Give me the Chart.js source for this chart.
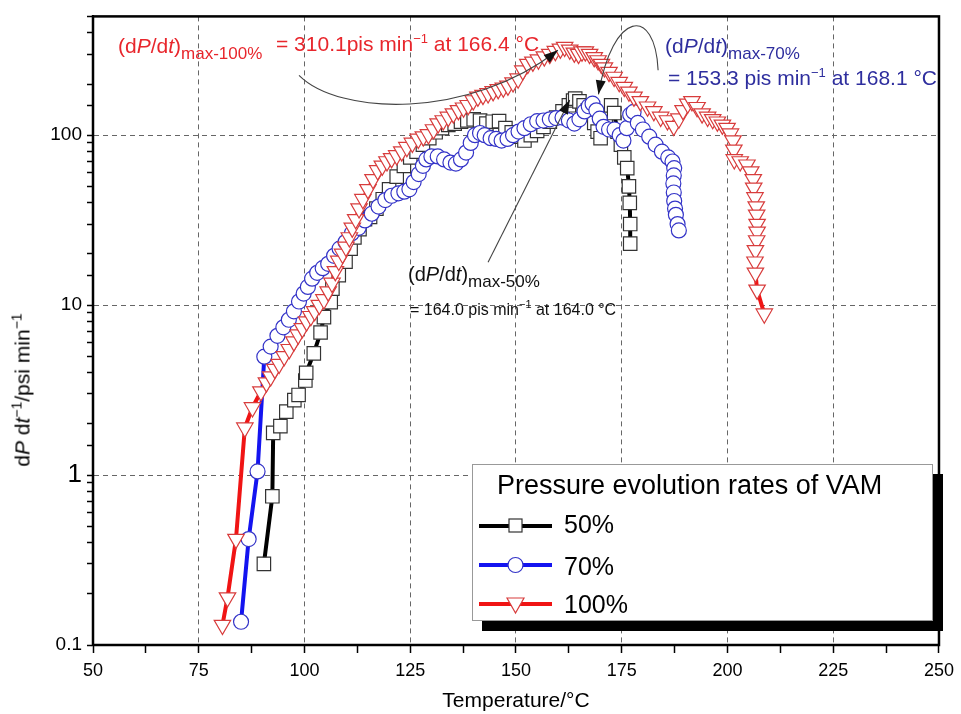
<!DOCTYPE html>
<html>
<head>
<meta charset="utf-8">
<script src="https://cdn.jsdelivr.net/npm/chart.js@4.4.1/dist/chart.umd.min.js"></script>
<style>
  body { margin: 0; background: #fff; }
  #wrap { position: relative; width: 961px; height: 714px; font-family: 'Liberation Sans', Arial, sans-serif; }
  canvas { position: absolute; left: 0; top: 0; }
  .t { position: absolute; white-space: nowrap; line-height: 1; }
  .t sub { font-size: 17px; vertical-align: baseline; position: relative; top: 0.35em; }
  .t sup { font-size: 13px; vertical-align: baseline; position: relative; top: -0.6em; }
  .red { color: #e8262c; font-size: 21px; }
  .blue { color: #2e2e9e; font-size: 21px; }
  .blk { color: #111; }
  #legend { position: absolute; left: 472px; top: 464px; width: 459px; height: 155px;
            border: 1px solid #999; background: #fff; box-shadow: 10px 10px 0 #000; }
  #ytitle { position: absolute; left: 22px; top: 390px; transform: translate(-50%, -50%) rotate(-90deg);
            font-size: 21px; white-space: nowrap; line-height: 1; }
  #ytitle sup { font-size: 14px; vertical-align: baseline; position: relative; top: -0.6em; }
</style>
</head>
<body>
<div id="wrap">
<canvas id="c" width="961" height="714"></canvas>

<div id="ytitle">d<i>P</i> d<i>t</i><sup>−1</sup>/psi min<sup>−1</sup></div>

<div class="t red" style="left:118px;top:35px">(d<i>P</i>/d<i>t</i>)<sub>max-100%</sub></div>
<div class="t red" style="left:276px;top:33px">= 310.1pis min<sup>−1</sup> at 166.4 °C</div>
<div class="t blue" style="left:665px;top:35px">(d<i>P</i>/d<i>t</i>)<sub>max-70%</sub></div>
<div class="t blue" style="left:668px;top:67px">= 153.3 pis min<sup>−1</sup> at 168.1 °C</div>
<div class="t blk" style="left:408px;top:264px;font-size:20px">(d<i>P</i>/d<i>t</i>)<sub>max-50%</sub></div>
<div class="t blk" style="left:410px;top:302px;font-size:16px">= 164.0 pis min<sup style="font-size:11px">−1</sup> at 164.0 °C</div>

<div id="legend">
  <svg width="120" height="155" style="position:absolute;left:0;top:0">
    <line x1="6" y1="61" x2="79" y2="61" stroke="#000" stroke-width="4"/>
    <rect x="36" y="54" width="13" height="13" fill="#fff" stroke="#333" stroke-width="1.2"/>
    <line x1="6" y1="100" x2="79" y2="100" stroke="#1414f0" stroke-width="4"/>
    <circle cx="42.5" cy="100" r="7.5" fill="#fff" stroke="#3434c8" stroke-width="1.2"/>
    <line x1="6" y1="139" x2="79" y2="139" stroke="#f01414" stroke-width="4"/>
    <polygon points="34,133 51,133 42.5,148" fill="#fff" stroke="#d83c3c" stroke-width="1.2"/>
  </svg>
  <div class="t" style="left:24px;top:7px;font-size:27px;color:#000">Pressure evolution rates of VAM</div>
  <div class="t" style="left:91px;top:47px;font-size:25px;color:#000">50%</div>
  <div class="t" style="left:91px;top:89px;font-size:25px;color:#000">70%</div>
  <div class="t" style="left:91px;top:127px;font-size:25px;color:#000">100%</div>
</div>
</div>

<script>
// 50 % VAM (black squares)
const temp50 = [90.4, 92.4, 92.6, 94.3, 95.7, 97.6, 98.6, 100.2, 100.4, 102.2, 103.8, 104.6, 106.2, 106.6, 108.1,
  109.7, 110.9, 111.8, 113.0, 114.3, 115.5, 117.0, 118.5, 120.0, 121.8, 123.5, 125.0, 126.5, 128.0, 129.5,
  131.0, 132.5, 134.0, 135.5, 137.0, 138.5, 140.0, 141.5, 143.0, 144.5, 146.0, 147.5, 149.0, 150.5, 152.0,
  153.5, 155.0, 156.5, 158.0, 159.5, 161.0, 162.5, 163.5, 164.0, 165.0, 166.0, 167.0, 168.5, 169.3, 170.0,
  171.2, 172.5, 173.2, 174.0, 174.8, 175.6, 176.3, 176.7, 176.9, 177.0, 177.0];
const rate50 = [0.30, 0.75, 1.77, 1.94, 2.36, 2.76, 2.96, 3.6, 4.0, 5.2, 6.9, 8.5, 10.4, 12.5, 15,
  18, 21.5, 25, 28, 32, 33, 37, 42, 48, 57, 66, 74, 80, 88, 96,
  104, 110, 115, 117, 120, 122, 124, 122, 117, 120, 121, 110, 104, 98, 93,
  100, 106, 112, 120, 127, 138, 150, 160, 164, 158, 150, 140, 118, 105, 96,
  125, 150, 135, 105, 88, 74, 64, 50, 40, 30, 23];

// 70 % VAM (blue circles)
const temp70 = [85.0, 86.8, 88.9, 90.5, 92.0, 93.6, 95.0, 96.3, 97.5, 98.7, 99.8, 100.8, 101.8, 103.0, 104.3,
  105.6, 107.0, 108.3, 109.7, 111.2, 112.8, 114.3, 115.9, 117.5, 119.1, 120.6, 122.2, 123.6, 124.8, 125.8,
  127.0, 128.0, 128.8, 130.0, 131.5, 133.0, 134.5, 135.8, 137.0, 138.2, 139.3, 140.3, 141.5, 142.6, 144.0,
  145.3, 146.6, 148.0, 149.3, 150.6, 152.0, 153.5, 155.0, 156.5, 158.0, 159.5, 161.0, 162.5, 163.8, 165.0,
  166.2, 167.2, 168.1, 169.0, 169.8, 170.7, 172.0, 173.3, 174.5, 175.4, 176.2, 177.0, 177.8, 178.8, 180.0,
  181.5, 183.0, 184.5, 186.0, 187.0, 187.4, 187.3, 187.2, 187.3, 187.4, 187.6, 187.8, 188.2, 188.5];
const rate70 = [0.137, 0.42, 1.05, 4.97, 5.7, 6.6, 7.4, 8.2, 9.2, 10.5, 11.7, 12.8, 14.3, 15.5, 16.5,
  17.5, 19.5, 21.5, 23.5, 26.5, 28.5, 31.5, 34.5, 38, 41.5, 44, 45.5, 46.5, 48, 53,
  59, 66, 72, 75, 75, 72, 69, 68, 72, 79, 90, 100, 103, 100, 96,
  95, 93, 95, 100, 105, 110, 116, 121, 122, 124, 126, 127, 122, 117, 124,
  138, 148, 153.3, 140, 125, 112, 108, 108, 100, 93, 110, 132, 137, 118, 108,
  98, 88, 80, 74, 70, 64, 58, 52, 46, 41, 37, 34, 30, 27.5];

// 100 % VAM (red triangles)
const temp100 = [80.6, 81.8, 83.8, 85.9, 87.7, 89.7, 91.0, 92.0, 93.0, 94.0, 95.2, 96.4, 97.5, 98.5, 99.5,
  100.5, 101.5, 102.4, 103.5, 104.6, 105.6, 106.5, 107.3, 108.1, 109.0, 109.8, 110.6, 111.3, 112.1, 112.9,
  113.8, 115.0, 116.2, 117.3, 118.4, 119.5, 120.6, 121.8, 123.0, 124.2, 125.5, 126.9, 128.1, 129.3, 130.5,
  131.6, 132.8, 134.0, 135.2, 136.4, 137.6, 138.7, 139.9, 141.0, 142.2, 143.4, 144.6, 145.8, 147.0, 148.1,
  149.3, 150.5, 151.6, 152.8, 154.0, 155.3, 156.7, 158.0, 159.3, 160.5, 161.5, 162.7, 163.8, 164.8, 165.6,
  166.4, 167.4, 168.5, 169.4, 170.2, 170.9, 172.0, 173.2, 174.4, 175.6, 176.7, 177.9, 179.4, 181.1, 182.6,
  184.2, 185.8, 187.3, 188.5, 189.5, 190.6, 191.6, 192.8, 194.0, 195.3, 196.5, 197.6, 198.8, 199.9, 200.7,
  201.3, 201.5, 201.6, 203.0, 204.6, 205.5, 206.1, 206.2, 206.5, 206.8, 206.9, 207.0, 207.0, 206.9, 206.6,
  206.5, 206.6, 207.0, 208.7];
const rate100 = [0.131, 0.19, 0.42, 1.9, 2.5, 3.1, 3.5, 3.8, 4.2, 4.5, 5.0, 5.5, 6.1, 6.7, 7.3,
  8.0, 8.6, 9.2, 10.0, 10.8, 12, 13.5, 15.8, 18.2, 20, 22, 25, 28.5, 32, 37,
  42, 48, 55, 62, 66, 70, 73, 76, 80, 85, 90, 95, 98, 101, 108,
  117, 122, 128, 134, 140, 145, 150, 160, 168, 172, 176, 181, 186, 190, 195,
  204, 215, 240, 262, 270, 278, 290, 300, 312, 322, 330, 318, 305, 300, 310,
  310.1, 300, 287, 275, 262, 250, 235, 220, 205, 192, 180, 168, 158, 147, 138,
  128, 122, 113, 125, 140, 153, 158, 146, 134, 128, 124, 120, 115, 110, 102,
  93, 82, 72, 70, 67, 61, 55, 49, 43, 38, 34, 30, 27, 24, 21,
  18, 15.5, 12.3, 8.9];

const xMajor = [50, 75, 100, 125, 150, 175, 200, 225, 250];
const yLabelled = [0.1, 1, 10, 100];

// annotation leaders, in data units (temperature, rate)
const lead100 = [[98.7, 225], [108.1, 131], [138.7, 122.5], [159.9, 316]];
const lead70 = [[183.6, 241], [182.9, 582], [172.8, 543], [169.5, 174]];
const lead50 = [[143.4, 17.9], [162.7, 161]];

const pts = (xs, ys) => xs.map((t, i) => ({ x: t, y: ys[i] }));
const FONT = "'Liberation Sans', Arial, sans-serif";

const leaders = {
  id: 'leaders',
  afterDatasetsDraw(chart) {
    const { ctx, chartArea: a, scales: { x, y } } = chart;
    const P = p => [x.getPixelForValue(p[0]), y.getPixelForValue(p[1])];
    const head = (from, to) => {
      const ang = Math.atan2(to[1] - from[1], to[0] - from[0]);
      ctx.save();
      ctx.translate(to[0], to[1]);
      ctx.rotate(ang);
      ctx.beginPath();
      ctx.moveTo(0, 0);
      ctx.lineTo(-14, -5);
      ctx.lineTo(-14, 5);
      ctx.closePath();
      ctx.fillStyle = '#111';
      ctx.fill();
      ctx.restore();
    };
    ctx.save();
    ctx.strokeStyle = '#444';
    ctx.lineWidth = 1.1;
    for (const L of [lead100, lead70]) {
      const q = L.map(P);
      ctx.beginPath();
      ctx.moveTo(q[0][0], q[0][1]);
      ctx.bezierCurveTo(q[1][0], q[1][1], q[2][0], q[2][1], q[3][0], q[3][1]);
      ctx.stroke();
      head(q[2], q[3]);
    }
    const s = lead50.map(P);
    ctx.beginPath();
    ctx.moveTo(s[0][0], s[0][1]);
    ctx.lineTo(s[1][0], s[1][1]);
    ctx.stroke();
    head(s[0], s[1]);
    // frame
    ctx.strokeStyle = '#000';
    ctx.lineWidth = 2.5;
    ctx.strokeRect(a.left, a.top, a.right - a.left, a.bottom - a.top);
    ctx.restore();
  }
};

new Chart(document.getElementById('c'), {
  type: 'scatter',
  data: {
    datasets: [
      {
        label: '100%',
        data: pts(temp100, rate100),
        showLine: true,
        borderColor: '#f01414',
        borderWidth: 4,
        pointStyle: 'triangle',
        rotation: 180,
        radius: 9.5,
        pointBackgroundColor: '#fff',
        pointBorderColor: '#d83c3c',
        pointBorderWidth: 1.2,
        order: 1,
      },
      {
        label: '70%',
        data: pts(temp70, rate70),
        showLine: true,
        borderColor: '#1414f0',
        borderWidth: 4,
        pointStyle: 'circle',
        radius: 7.5,
        pointBackgroundColor: '#fff',
        pointBorderColor: '#3434c8',
        pointBorderWidth: 1.2,
        order: 2,
      },
      {
        label: '50%',
        data: pts(temp50, rate50),
        showLine: true,
        borderColor: '#000',
        borderWidth: 4,
        pointStyle: 'rect',
        radius: 9.5,
        pointBackgroundColor: '#fff',
        pointBorderColor: '#333',
        pointBorderWidth: 1.2,
        order: 3,
      },
    ],
  },
  options: {
    responsive: false,
    animation: false,
    layout: { padding: { top: 15, right: 18, left: 0, bottom: 0 } },
    elements: { line: { tension: 0 } },
    plugins: { legend: { display: false }, tooltip: { enabled: false } },
    scales: {
      x: {
        type: 'linear',
        min: 50,
        max: 250,
        afterFit: s => { s.height = 69; },
        ticks: {
          stepSize: 12.5,
          autoSkip: false,
          maxRotation: 0,
          padding: 7,
          color: '#000',
          font: { family: FONT, size: 18 },
          callback: v => (xMajor.includes(v) ? v : ''),
        },
        grid: {
          color: c => (c.tick && xMajor.includes(c.tick.value) && c.tick.value !== 50 && c.tick.value !== 250) ? '#666' : 'rgba(0,0,0,0)',
          lineWidth: 1,
          tickColor: '#000',
          tickLength: 8,
          tickWidth: 1.5,
        },
        border: { color: '#000', width: 2, dash: [5, 4] },
        title: {
          display: true,
          text: 'Temperature/°C',
          color: '#000',
          font: { family: FONT, size: 21 },
          padding: { top: 0, bottom: 0 },
        },
      },
      y: {
        type: 'logarithmic',
        min: 0.1,
        max: 500,
        afterFit: s => { s.width = 93; },
        ticks: {
          autoSkip: false,
          padding: 5,
          color: '#000',
          font: c => ({ family: FONT, size: (c.tick && c.tick.value === 1) ? 26 : 19 }),
          callback: v => (yLabelled.includes(v) ? String(v) : ''),
        },
        grid: {
          color: c => (c.tick && [1, 10, 100].includes(c.tick.value)) ? '#666' : 'rgba(0,0,0,0)',
          lineWidth: 1,
          tickColor: '#000',
          tickLength: 6,
          tickWidth: 1.5,
        },
        border: { color: '#000', width: 2, dash: [5, 4] },
      },
    },
  },
  plugins: [leaders],
});
</script>
</body>
</html>
